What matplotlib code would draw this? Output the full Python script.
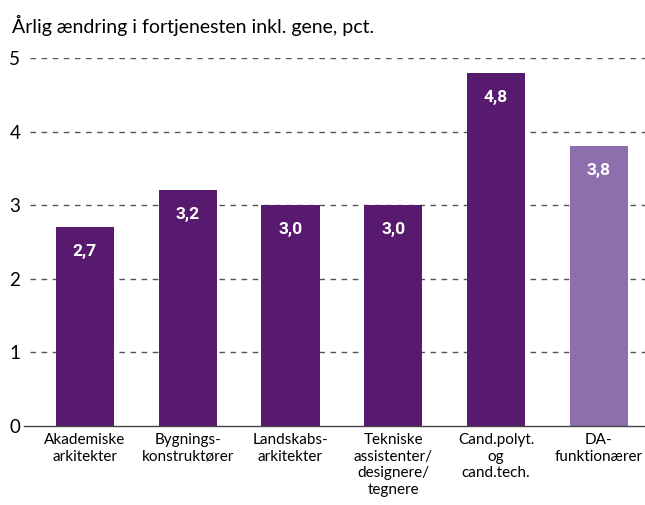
import matplotlib
matplotlib.use("Agg")
import matplotlib.pyplot as plt

categories = ["Akademiske\narkitekter", "Bygnings-\nkonstruktører", "Landskabs-\narkitekter",
              "Tekniske\nassistenter/\ndesignere/\ntegnere", "Cand.polyt.\nog\ncand.tech.",
              "DA-\nfunktionærer"]
values = [2.7, 3.2, 3.0, 3.0, 4.8, 3.8]
value_labels = ["2,7", "3,2", "3,0", "3,0", "4,8", "3,8"]
title = "Årlig ændring i fortjenesten inkl. gene, pct."

dark = "#581A6E"
light = "#8E6FAD"
colors = [dark] * 5 + [light]

plt.rcParams['font.family'] = ['Lato', 'DejaVu Sans']

fig = plt.figure(figsize=(6.45, 5.05), dpi=100)
ax = fig.add_axes([30/645, 1 - 426/505, 1 - 30/645, (426 - 58)/505])

x = list(range(len(categories)))
ax.set_ylim(0, 5)
ax.set_xlim(-0.535, 5.45)
for yv in [1, 2, 3, 4, 5]:
    ax.axhline(yv, color="#555555", lw=1.0, ls=(0, (4, 4)), zorder=0)
ax.axhline(0, color="#444444", lw=1.0, zorder=3, xmin=-0.01, clip_on=False)

bars = ax.bar(x, values, width=0.565, color=colors, zorder=2)
for xi, v, lab in zip(x, values, value_labels):
    ax.text(xi, v - 0.33, lab, ha="center", va="center", color="white",
            fontsize=12.5, fontweight="bold", family=['Roboto', 'DejaVu Sans'], zorder=4)

ax.set_yticks([0, 1, 2, 3, 4, 5])
ax.set_yticklabels(["0", "1", "2", "3", "4", "5"], fontsize=13.5)
ax.set_xticks(x)
ax.set_xticklabels(categories, fontsize=11, linespacing=1.25)
ax.tick_params(axis="y", length=0, pad=7)
ax.tick_params(axis="x", length=0, pad=5)
for s in ax.spines.values():
    s.set_visible(False)

fig.text(12/645, 1 - 25/505, title, fontsize=14, ha="left", va="center")

fig.savefig("out.png", dpi=100)
